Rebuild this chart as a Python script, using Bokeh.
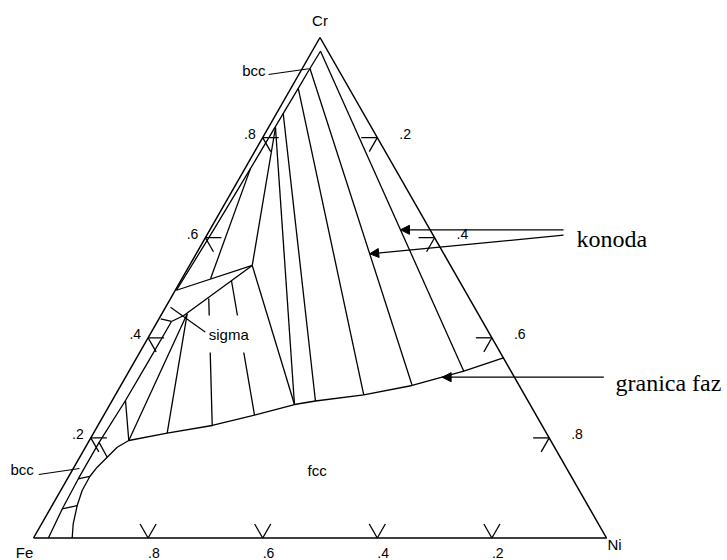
import numpy as np
from bokeh.plotting import figure
from bokeh.models import Range1d, Arrow, NormalHead
from bokeh.core.properties import value
from bokeh.embed import file_html
from bokeh.resources import INLINE

# Fe-Cr-Ni isothermal section. Compositions are fractions (Cr, Ni); Fe is the balance.

# corners of the composition triangle: Fe, Ni, Cr
corner_cr = [0.0, 0.0, 1.0]
corner_ni = [0.0, 1.0, 0.0]
corner_names = ["Fe", "Ni", "Cr"]

# axis ticks
tick_values = [0.2, 0.4, 0.6, 0.8]
tick_labels = [".2", ".4", ".6", ".8"]

# bcc boundary on the Cr-rich side
bcc_cr_side_cr = [0.973, 0.938, 0.899, 0.848, 0.822, 0.738, 0.620, 0.495]
bcc_cr_side_ni = [0.0146, 0.0134, 0.0128, 0.0117, 0.0112, 0.0096, 0.0067, 0.0020]

# bcc boundary on the Fe-rich side
bcc_fe_side_cr = [0.000, 0.060, 0.120, 0.190, 0.2747, 0.350, 0.4326]
bcc_fe_side_ni = [0.026, 0.021, 0.019, 0.019, 0.0232, 0.024, 0.0245]

# fcc phase boundary (granica faz)
fcc_cr = [0.0, 0.0284, 0.0649, 0.0949, 0.1229, 0.1415, 0.1614, 0.1814, 0.1948,
          0.2094, 0.2248, 0.2454, 0.2667, 0.2737, 0.2861, 0.3047, 0.3333, 0.360]
fcc_ni = [0.0675, 0.0551, 0.0438, 0.0375, 0.0368, 0.0404, 0.0479, 0.0554, 0.0689,
          0.1286, 0.1995, 0.2630, 0.3221, 0.3552, 0.4333, 0.5085, 0.5843, 0.640]

# sigma phase field
sigma_upper_cr = [0.495, 0.5445]
sigma_upper_ni = [0.002, 0.1095]
sigma_lower_cr = [0.5445, 0.4446, 0.4326]
sigma_lower_ni = [0.1095, 0.0400, 0.0245]
sigma_fe_end_cr = [0.438, 0.4326]
sigma_fe_end_ni = [0.003, 0.0245]

# tie lines (konoda): start Cr, start Ni, end Cr, end Ni
tie_start_cr = [0.9726, 0.9381, 0.8985, 0.8482, 0.8202,   # bcc + fcc, Cr side
                0.8202, 0.5445, 0.738,                      # three-phase triangle, bcc + sigma
                0.4785, 0.5145, 0.4480,                     # sigma + fcc
                0.4480, 0.2747,                             # three-phase triangle, Fe side
                0.058, 0.118, 0.191]                        # bcc + fcc, Fe side
tie_start_ni = [0.0146, 0.0134, 0.0128, 0.0117, 0.0122,
                0.0122, 0.1095, 0.0096,
                0.0666, 0.0882, 0.0442,
                0.0442, 0.0232,
                0.021, 0.019, 0.019]
tie_end_cr = [0.3333, 0.3047, 0.2861, 0.2737, 0.2667,
              0.5445, 0.2667, 0.518,
              0.2248, 0.2454, 0.2094,
              0.1948, 0.1948,
              0.0649, 0.1229, 0.1614]
tie_end_ni = [0.5843, 0.5085, 0.4333, 0.3552, 0.3221,
              0.1095, 0.3221, 0.050,
              0.1995, 0.2630, 0.1286,
              0.0689, 0.0689,
              0.0438, 0.0368, 0.0479]


def tern(cr, ni):
    """Composition (Cr, Ni) -> plot coordinates; Ni along the base, Cr upward."""
    cr = np.asarray(cr, dtype=float)
    ni = np.asarray(ni, dtype=float)
    return ni + cr / 2.0, cr


def on_segment(cr0, ni0, cr1, ni1, cr):
    t = (cr0 - cr) / (cr0 - cr1)
    return tern(cr, ni0 + t * (ni1 - ni0))


p = figure(width=727, height=560, output_backend="svg", toolbar_location=None,
           x_range=Range1d(-0.05759, 1.21117), y_range=Range1d(-0.04496, 1.07393),
           x_axis_location=None, y_axis_location=None, min_border=0)
p.grid.visible = False
p.outline_line_color = None
p.background_fill_color = "white"

LW = 1.3
INK = "black"

# triangle
tx, ty = tern(corner_cr + corner_cr[:1], corner_ni + corner_ni[:1])
p.line(tx, ty, line_color=INK, line_width=1.5)

# tick marks (two short arms each)
ARM = 0.028
xs, ys = [], []
for v in tick_values:
    # base: Fe fraction v
    bx, by = tern(0.0, 1.0 - v)
    for c, n in [(ARM, 1.0 - v - ARM), (ARM, 1.0 - v)]:
        ex, ey = tern(c, n)
        xs.append([bx, ex]); ys.append([by, ey])
    # left side: Cr fraction v
    bx, by = tern(v, 0.0)
    for c, n in [(v, ARM), (v - ARM, ARM)]:
        ex, ey = tern(c, n)
        xs.append([bx, ex]); ys.append([by, ey])
    # right side: Ni fraction v
    bx, by = tern(1.0 - v, v)
    for c, n in [(1.0 - v, v - ARM), (1.0 - v - ARM, v)]:
        ex, ey = tern(c, n)
        xs.append([bx, ex]); ys.append([by, ey])
p.multi_line(xs, ys, line_color=INK, line_width=LW)

# phase boundaries
bounds = [(bcc_cr_side_cr, bcc_cr_side_ni), (bcc_fe_side_cr, bcc_fe_side_ni),
          (fcc_cr, fcc_ni), (sigma_upper_cr, sigma_upper_ni),
          (sigma_lower_cr, sigma_lower_ni), (sigma_fe_end_cr, sigma_fe_end_ni)]
bx_list, by_list = [], []
for c, n in bounds:
    x, y = tern(c, n)
    bx_list.append(list(x)); by_list.append(list(y))
p.multi_line(bx_list, by_list, line_color=INK, line_width=LW, line_join="round")

# tie lines
sx, sy = tern(tie_start_cr, tie_start_ni)
ex, ey = tern(tie_end_cr, tie_end_ni)
p.segment(sx, sy, ex, ey, line_color=INK, line_width=LW)

SANS = value("Liberation Sans")
SERIF = value("Liberation Serif")

# corner names
cx, cy = tern(corner_cr, corner_ni)
p.text(x=list(cx), y=list(cy), text=corner_names, text_font=SANS, text_font_size="15px",
       text_align="center", text_baseline="middle", text_color=INK,
       x_offset=[-9, 8, 0], y_offset=[15, 7, -17])

# tick labels
bx, by = tern([0.0] * 4, [1.0 - v for v in tick_values])
p.text(x=list(bx), y=list(by), text=tick_labels, text_font=SANS, text_font_size="14px",
       text_align="left", text_baseline="top", text_color=INK, y_offset=10)
lx, ly = tern(tick_values, [0.0] * 4)
p.text(x=list(lx), y=list(ly), text=tick_labels, text_font=SANS, text_font_size="14px",
       text_align="right", text_baseline="middle", text_color=INK, x_offset=-7, y_offset=-4)
rx, ry = tern([1.0 - v for v in tick_values], tick_values)
p.text(x=list(rx), y=list(ry), text=tick_labels, text_font=SANS, text_font_size="14px",
       text_align="left", text_baseline="middle", text_color=INK, x_offset=22, y_offset=-4)

# leader lines for the phase names
p.multi_line([[0.4101, 0.4805], [0.0093, 0.0803], [0.2391, 0.3002]],
             [[0.9261, 0.9375], [0.1269, 0.1389], [0.4611, 0.4112]],
             line_color=INK, line_width=1.1)

# white plate under the sigma label
p.quad(left=[0.3002], right=[0.3805], bottom=[0.3706], top=[0.4446],
       fill_color="white", line_color=None)

p.text(x=[0.4049, 0.0005], y=[0.934, 0.1359], text=["bcc", "bcc"], text_font=SANS,
       text_font_size="15px", text_align="right", text_baseline="middle", text_color=INK)
p.text(x=[0.3059], y=[0.4066], text=["sigma"], text_font=SANS, text_font_size="15px",
       text_align="left", text_baseline="middle", text_color=INK)
p.text(x=[0.4951], y=[0.1349], text=["fcc"], text_font=SANS, text_font_size="15px",
       text_align="center", text_baseline="middle", text_color=INK)

# callouts
p.text(x=[0.9476, 1.0157], y=[0.5984, 0.3087], text=["konoda", "granica faz"],
       text_font=SERIF, text_font_size="24px", text_align="left",
       text_baseline="alphabetic", text_color=INK)

head = dict(size=9, fill_color=INK, line_color=INK, line_width=1)
x1, y1 = on_segment(tie_start_cr[0], tie_start_ni[0], tie_end_cr[0], tie_end_ni[0], 0.6158)
x2, y2 = on_segment(tie_start_cr[1], tie_start_ni[1], tie_end_cr[1], tie_end_ni[1], 0.5678)
gx, gy = on_segment(fcc_cr[15], fcc_ni[15], fcc_cr[16], fcc_ni[16], 0.3213)
for (xs0, ys0, xe, ye) in [(0.925, 0.6158, x1, y1), (0.925, 0.605, x2, y2),
                           (0.9953, 0.3213, gx, gy)]:
    p.add_layout(Arrow(end=NormalHead(**head), x_start=xs0, y_start=ys0,
                       x_end=float(xe), y_end=float(ye),
                       line_color=INK, line_width=1.2))

open("out.html", "w").write(file_html(p, INLINE))
